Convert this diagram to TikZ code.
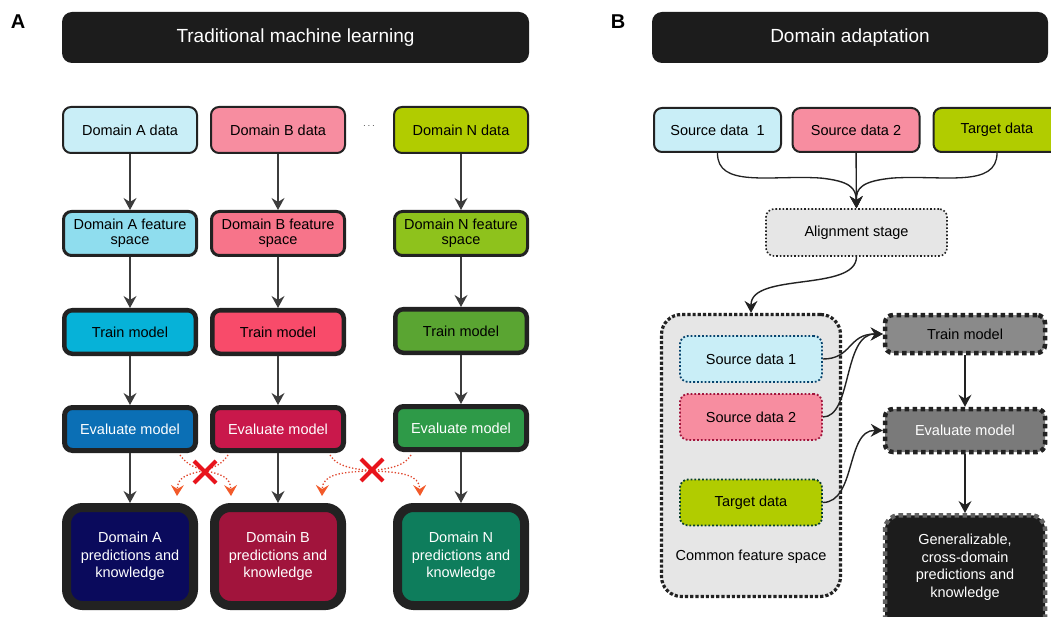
\documentclass[tikz,border=0pt]{standalone}
\usepackage{fontspec}
\setmainfont{Liberation Sans}
\usetikzlibrary{arrows.meta}
\definecolor{edge}{HTML}{222222}
\definecolor{arr}{HTML}{3C3C3C}
\definecolor{aD}{HTML}{C9EEF7}\definecolor{aF}{HTML}{8FDDEE}\definecolor{aT}{HTML}{06B2D8}\definecolor{aE}{HTML}{0B6FB5}\definecolor{aP}{HTML}{0A0A5C}
\definecolor{bD}{HTML}{F78DA0}\definecolor{bF}{HTML}{F7748A}\definecolor{bT}{HTML}{F84B6A}\definecolor{bE}{HTML}{C9184B}\definecolor{bP}{HTML}{A1143C}
\definecolor{nD}{HTML}{B1CC00}\definecolor{nF}{HTML}{8EC21C}\definecolor{nT}{HTML}{5AA532}\definecolor{nE}{HTML}{2E9A48}\definecolor{nP}{HTML}{0E7D5C}
\definecolor{lightg}{HTML}{E6E6E6}\definecolor{midg}{HTML}{8A8A8A}\definecolor{darkg}{HTML}{7A7A7A}\definecolor{blk}{HTML}{1C1C1C}
\definecolor{redx}{HTML}{E8141C}\definecolor{redd}{HTML}{E0452C}\definecolor{redtip}{HTML}{F25A2A}
\newcommand{\fs}{\fontsize{14.5}{17.5}\selectfont}
\tikzset{
  box/.style={rounded corners=8, align=center, inner sep=0pt, font=\fs, draw=edge},
  databox/.style={box, line width=2pt, minimum width=134, minimum height=46},
  featbox/.style={box, line width=3pt, minimum width=133, minimum height=44},
  trainbox/.style={box, line width=4.5pt, minimum width=131.5, minimum height=43.5},
  evalbox/.style={box, line width=5pt, minimum width=131, minimum height=43, text=white},
  predbox/.style={box, line width=9pt, rounded corners=16, minimum width=127, minimum height=98, text=white},
  header/.style={fill=blk, rounded corners=10, text=white, font=\fontsize{19}{22}\selectfont, minimum height=51, inner sep=0pt},
  tipg/.tip={Stealth[length=12bp, width=13bp, inset=4bp, line width=0pt]},
  flow/.style={draw=arr, line width=1.4pt, -tipg},
  cross/.style={draw=redd, line width=1.3pt, dotted, -{Stealth[length=11bp, width=13bp, inset=4bp, line width=0pt, fill=redtip, color=redtip]}},
  srcbox/.style={box, line width=2pt, minimum width=127, minimum height=44},
  innerbox/.style={box, line width=1.8pt, dotted, minimum width=142, minimum height=46},
  grayflow/.style={draw=edge, line width=1.4pt, -tipg},
  darkbox/.style={box, line width=4.5pt, dash pattern=on 4.5pt off 3.5pt, minimum width=160},
  xmark/.style={draw=redx, line width=4pt}
}
\begin{document}
\begin{tikzpicture}[x=1pt,y=-1pt]
\useasboundingbox (0,0) rectangle (1051,617);
\fill[white] (0,0) rectangle (1051,617);
\clip (0,0) rectangle (1051,617);
% panel letters
\node[font=\fontsize{20}{22}\selectfont\bfseries] (la) at (18,22) {A};
\node[font=\fontsize{20}{22}\selectfont\bfseries] (lb) at (618,22) {B};
% headers
\node[header, minimum width=467] (hA) at (295.5,37.5) {Traditional machine learning};
\node[header, minimum width=396] (hB) at (850,37.5) {Domain adaptation};
% ---------------- Panel A ----------------
\node[databox, fill=aD] (dA) at (130,130) {Domain A data};
\node[databox, fill=bD] (dB) at (278,130) {Domain B data};
\node[databox, fill=nD] (dN) at (461,130) {Domain N data};
\node[font=\fontsize{10}{12}\selectfont, text=arr] (dots) at (369,126) {$\cdots$};
\node[featbox, fill=aF] (fA) at (130,233.5) {Domain A feature\\[-2pt]space};
\node[featbox, fill=bF] (fB) at (278,233.5) {Domain B feature\\[-2pt]space};
\node[featbox, fill=nF] (fN) at (461,233.5) {Domain N feature\\[-2pt]space};
\node[trainbox, fill=aT] (tA) at (130,332) {Train model};
\node[trainbox, fill=bT] (tB) at (278,332) {Train model};
\node[trainbox, fill=nT] (tN) at (461,331) {Train model};
\node[evalbox, fill=aE] (eA) at (130,429) {Evaluate model};
\node[evalbox, fill=bE] (eB) at (278,429) {Evaluate model};
\node[evalbox, fill=nE] (eN) at (461,428) {Evaluate model};
\node[predbox, fill=aP] (pA) at (130,556.5) {Domain A\\predictions and\\knowledge};
\node[predbox, fill=bP] (pB) at (278,556.5) {Domain B\\predictions and\\knowledge};
\node[predbox, fill=nP] (pN) at (461,556.5) {Domain N\\predictions and\\knowledge};
\foreach \c in {A,B,N}{
  \draw[flow] (d\c) -- (f\c);
  \draw[flow] (f\c) -- (t\c);
  \draw[flow] (t\c) -- (e\c);
  \draw[flow] (e\c) -- (p\c);
}
% cross-domain (invalid) transfers
\coordinate (cAo) at (180,455);
\coordinate (cBl) at (228,455);
\coordinate (cBr) at (330,455);
\coordinate (cNl) at (411,455);
\coordinate (tBl) at (231,496);
\coordinate (tAr) at (177,496);
\coordinate (tNl) at (420,496);
\coordinate (tBr) at (322,496);
\draw[cross] (cAo) .. controls (195,478) and (230,466) .. (tBl);
\draw[cross] (cBl) .. controls (214,478) and (178,466) .. (tAr);
\draw[cross] (cBr) .. controls (345,482) and (419,460) .. (tNl);
\draw[cross] (cNl) .. controls (396,482) and (323,460) .. (tBr);
\draw[xmark] (194,461) -- (216,483) (216,461) -- (194,483);
\draw[xmark] (361,459) -- (383,481) (383,459) -- (361,481);
% ---------------- Panel B ----------------
\node[srcbox, fill=aD] (s1) at (717.5,130) {Source data\ \ 1};
\node[srcbox, fill=bD] (s2) at (856,130) {Source data 2};
\node[srcbox, fill=nD] (st) at (997,130) {Target data};
\node[box, line width=1.6pt, dotted, fill=lightg, minimum width=181, minimum height=47] (al) at (856.5,232.5) {Alignment stage};
\coordinate (m1) at (820,178);
\coordinate (m2) at (893,178);
\draw[draw=edge, line width=1.3pt] (s1.south) .. controls (717,188) and (770,175) .. (m1);
\draw[draw=edge, line width=1.3pt] (st.south) .. controls (997,188) and (944,175) .. (m2);
\draw[grayflow] (m1) .. controls (850,181) and (856,188) .. (al.north);
\draw[grayflow] (m2) .. controls (862,181) and (856,188) .. (al.north);
\draw[grayflow] (s2) -- (al);
\node[box, line width=3.2pt, dotted, rounded corners=20, fill=lightg, minimum width=179, minimum height=282] (cfs) at (751,455.5) {};
\node[font=\fs] (cfsl) at (751,557) {Common feature space};
\draw[grayflow] (al.south) .. controls (856,292) and (751,272) .. (cfs.north);
\node[innerbox, draw=aE!60!black, fill=aD] (i1) at (751,359) {Source data 1};
\node[innerbox, draw=bP, fill=bD] (i2) at (751,417) {Source data 2};
\node[innerbox, draw=nP!50!black, fill=nD] (i3) at (751,502.5) {Target data};
\node[darkbox, fill=midg, minimum height=38] (tr) at (965,334) {Train model};
\node[darkbox, fill=darkg, minimum height=43, text=white] (ev) at (965,430.5) {Evaluate model};
\node[darkbox, draw=darkg!80!black, fill=blk, rounded corners=14, minimum height=120, text=white, anchor=north] (gen) at (965,513) {};
\node[font=\fs, align=center, text=white] (genl) at (965,567) {Generalizable,\\cross-domain\\predictions and\\knowledge};
\draw[grayflow] (i1.east) .. controls (852,359) and (848,334) .. (tr.west);
\draw[grayflow] (i2.east) .. controls (852,417) and (843,334) .. (tr.west);
\draw[grayflow] (i3.east) .. controls (856,502) and (846,430) .. (ev.west);
\draw[grayflow] (tr) -- (ev);
\draw[grayflow] (ev) -- (gen);
\end{tikzpicture}
\end{document}
